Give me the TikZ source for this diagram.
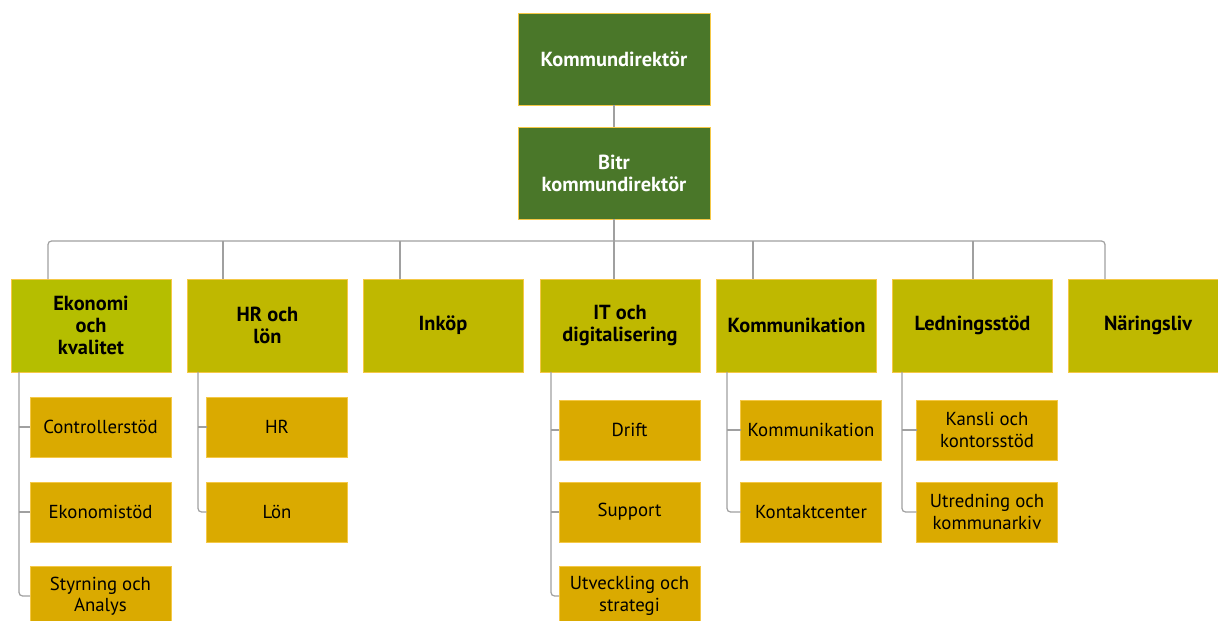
\documentclass[tikz,border=0pt]{standalone}
\usepackage{fontspec}
\setmainfont{PT Sans}
\usepackage{tikz}

\definecolor{ledgreen}{RGB}{74,119,41}
\definecolor{unitolive}{RGB}{191,184,0}
\definecolor{ekolime}{RGB}{181,190,0}
\definecolor{subgold}{RGB}{218,170,0}
\definecolor{edgegold}{RGB}{245,200,70}
\definecolor{linkgray}{RGB}{160,160,160}

\begin{document}
\begin{tikzpicture}[x=0.02cm,y=-0.02cm,
    box/.style={draw=edgegold,line width=0.5pt,inner sep=1pt,outer sep=0pt,align=center},
    topbox/.style={box,fill=ledgreen,text=white,font=\fontsize{11.6}{12.6}\selectfont\bfseries,minimum width=3.84cm,minimum height=1.84cm},
    unitbox/.style={box,fill=unitolive,font=\fontsize{11.6}{12.6}\selectfont\bfseries,minimum width=3.2cm,minimum height=1.86cm},
    subbox/.style={box,fill=subgold,font=\fontsize{10.7}{12.2}\selectfont,minimum width=2.82cm,minimum height=1.2cm},
    link/.style={draw=linkgray,line width=0.7pt}]
    \clip (0,0) rectangle (1218,621);

    \node[topbox] (kd) at (614,59) {Kommundirektör};
    \node[topbox] (bk) at (614,173) {Bitr\\kommundirektör};

    \node[unitbox,fill=ekolime] (eko) at (91,325.5) {Ekonomi\\och\\kvalitet};
    \node[unitbox] (hr) at (267.5,325.5) {HR och\\lön};
    \node[unitbox] (ink) at (443,325.5) {Inköp};
    \node[unitbox] (it) at (620,325.5) {IT och\\digitalisering};
    \node[unitbox] (kom) at (796.5,325.5) {Kommunikation};
    \node[unitbox] (led) at (972.5,325.5) {Ledningsstöd};
    \node[unitbox] (nar) at (1148,325.5) {Näringsliv};

    \node[subbox] (eko1) at (100.5,427) {Controllerstöd};
    \node[subbox] (eko2) at (100.5,512) {Ekonomistöd};
    \node[subbox] (eko3) at (100.5,596) {Styrning och\\Analys};
    \node[subbox] (hr1) at (277,427) {HR};
    \node[subbox] (hr2) at (277,512) {Lön};
    \node[subbox] (it1) at (629.5,430) {Drift};
    \node[subbox] (it2) at (629.5,512) {Support};
    \node[subbox] (it3) at (629.5,596) {Utveckling och\\strategi};
    \node[subbox] (kom1) at (811,430) {Kommunikation};
    \node[subbox] (kom2) at (811,512) {Kontaktcenter};
    \node[subbox] (led1) at (987,430) {Kansli och\\kontorsstöd};
    \node[subbox] (led2) at (987,512) {Utredning och\\kommunarkiv};

    \coordinate (bus) at (614,241);
    \coordinate (deko) at (48,241);
    \coordinate (dhr) at (223,241);
    \coordinate (dink) at (400,241);
    \coordinate (dkom) at (753,241);
    \coordinate (dled) at (973,241);
    \coordinate (dnar) at (1105,241);
    \coordinate (seko) at (19,372);
    \coordinate (shr) at (198,372);
    \coordinate (sit) at (551,372);
    \coordinate (skom) at (727,372);
    \coordinate (sled) at (902,372);

    \draw[link] (kd) -- (bk);
    \draw[link] (bk) -- (bk |- it.north);
    \draw[link,rounded corners=2pt] (deko |- eko.north) -- (deko) -- (dnar) -- (dnar |- nar.north);
    \draw[link] (dhr) -- (dhr |- hr.north);
    \draw[link] (dink) -- (dink |- ink.north);
    \draw[link] (dkom) -- (dkom |- kom.north);
    \draw[link] (dled) -- (dled |- led.north);

    \draw[link,rounded corners=2pt] (seko) |- (eko3);
    \draw[link] (seko |- eko1) -- (eko1);
    \draw[link] (seko |- eko2) -- (eko2);
    \draw[link,rounded corners=2pt] (shr) |- (hr2);
    \draw[link] (shr |- hr1) -- (hr1);
    \draw[link,rounded corners=2pt] (sit) |- (it3);
    \draw[link] (sit |- it1) -- (it1);
    \draw[link] (sit |- it2) -- (it2);
    \draw[link,rounded corners=2pt] (skom) |- (kom2);
    \draw[link] (skom |- kom1) -- (kom1);
    \draw[link,rounded corners=2pt] (sled) |- (led2);
    \draw[link] (sled |- led1) -- (led1);
\end{tikzpicture}
\end{document}
